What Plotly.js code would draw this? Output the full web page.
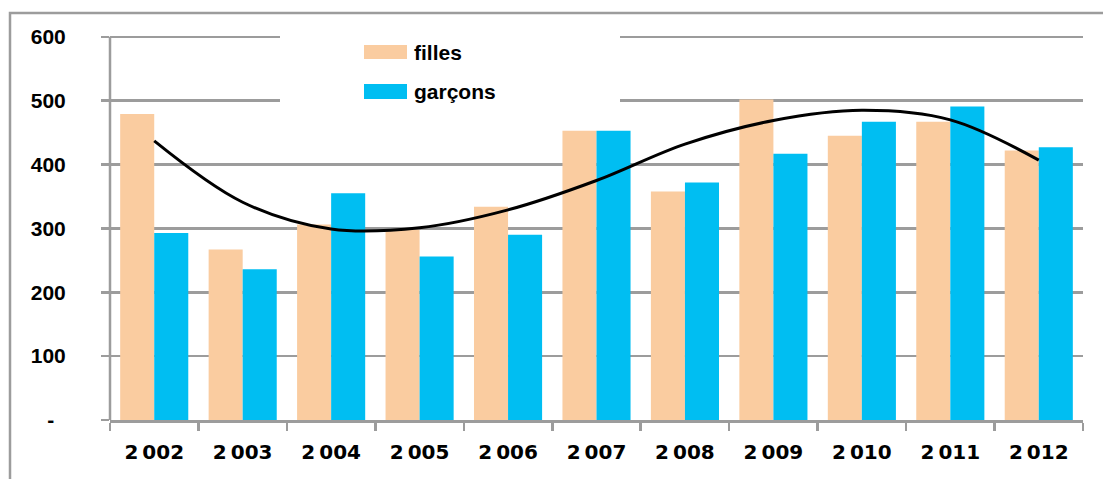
<!DOCTYPE html>
<html>
<head>
<meta charset="utf-8">
<script src="https://cdn.plot.ly/plotly-3.0.1.min.js"></script>
<style>
  html, body { margin: 0; padding: 0; background: #fff; }
  #chart { width: 1103px; height: 479px; }
</style>
</head>
<body>
<div id="chart"></div>
<script>
// ---- data ----
var years = ['2\u2009002', '2\u2009003', '2\u2009004', '2\u2009005', '2\u2009006', '2\u2009007',
             '2\u2009008', '2\u2009009', '2\u2009010', '2\u2009011', '2\u2009012'];
var filles  = [479, 267, 306, 298, 334, 453, 358, 502, 445, 467, 422];
var garcons = [293, 236, 355, 256, 290, 453, 372, 417, 467, 491, 427];
var trend   = [437, 341, 299, 301, 329, 375, 432, 469, 485, 470, 407];
var yTickVals = [0, 100, 200, 300, 400, 500, 600];
var yTickText = ['-\u00a0\u00a0', '100', '200', '300', '400', '500', '600'];
var legendNames = ['filles', 'gar\u00e7ons'];

// ---- layout helpers (pixel -> paper) ----
var L = 110, T = 33, W = 973, H = 387;
function px(x) { return (x - L) / W; }
function py(y) { return (T + H - y) / H; }

var peach = '#FACCA0';
var blue = '#00BEF2';
var gray = '#9C9C9C';

var traces = [
  { type: 'bar', x: years, y: filles, name: legendNames[0], marker: { color: peach }, hoverinfo: 'skip' },
  { type: 'bar', x: years, y: garcons, name: legendNames[1], marker: { color: blue }, hoverinfo: 'skip' },
  { type: 'scatter', mode: 'lines', x: years, y: trend, line: { color: '#000', width: 3, shape: 'spline', smoothing: 1 }, hoverinfo: 'skip', showlegend: false }
];

var layout = {
  width: 1103, height: 479,
  margin: { l: L, r: 1103 - L - W, t: T, b: 479 - T - H, pad: 0 },
  paper_bgcolor: '#fff', plot_bgcolor: '#fff',
  showlegend: false,
  barmode: 'group', bargap: 0.23, bargroupgap: 0,
  xaxis: {
    type: 'category',
    showgrid: false, zeroline: false,
    showline: true, linecolor: gray, linewidth: 2.5,
    ticks: 'outside', tickson: 'boundaries', ticklen: 8, tickwidth: 2.5, tickcolor: gray,
    tickfont: { family: 'DejaVu Sans', size: 20, color: '#000', weight: 'bold' },
    ticklabelstandoff: 12,
    fixedrange: true
  },
  yaxis: {
    range: [0, 606],
    tickmode: 'array', tickvals: yTickVals, ticktext: yTickText,
    showgrid: true, gridcolor: gray, gridwidth: 2.5,
    zeroline: false,
    showline: false,
    ticks: 'outside', ticklen: 8, tickwidth: 2.5, tickcolor: gray,
    tickfont: { family: 'Liberation Sans', size: 21, color: '#000', weight: 'bold' },
    ticklabelstandoff: 31,
    fixedrange: true
  },
  shapes: [
    // y axis line (from 0 to 600 only)
    { type: 'line', xref: 'paper', yref: 'y', x0: 0, x1: 0, y0: 0, y1: 600,
      line: { color: gray, width: 2.5 }, layer: 'above' },
    // outer frame
    { type: 'rect', xref: 'paper', yref: 'paper', x0: px(10), x1: px(1120), y0: py(500), y1: py(13),
      line: { color: gray, width: 2.5 }, fillcolor: 'rgba(0,0,0,0)', layer: 'above' },
    // legend background
    { type: 'rect', xref: 'paper', yref: 'paper', x0: px(280), x1: px(620), y0: py(112), y1: py(28),
      line: { width: 0 }, fillcolor: '#fff', layer: 'above' },
    // legend swatches
    { type: 'rect', xref: 'paper', yref: 'paper', x0: px(364), x1: px(407), y0: py(59), y1: py(45),
      line: { width: 0 }, fillcolor: peach, layer: 'above' },
    { type: 'rect', xref: 'paper', yref: 'paper', x0: px(364), x1: px(407), y0: py(99), y1: py(84),
      line: { width: 0 }, fillcolor: blue, layer: 'above' }
  ],
  annotations: [
    { xref: 'paper', yref: 'paper', x: px(412), y: py(52), xanchor: 'left', yanchor: 'middle',
      text: legendNames[0], showarrow: false,
      font: { family: 'Liberation Sans', size: 21, color: '#000', weight: 'bold' } },
    { xref: 'paper', yref: 'paper', x: px(412), y: py(91), xanchor: 'left', yanchor: 'middle',
      text: legendNames[1], showarrow: false,
      font: { family: 'Liberation Sans', size: 21, color: '#000', weight: 'bold' } }
  ]
};

Plotly.newPlot('chart', traces, layout, { staticPlot: true, displayModeBar: false });
</script>
</body>
</html>
